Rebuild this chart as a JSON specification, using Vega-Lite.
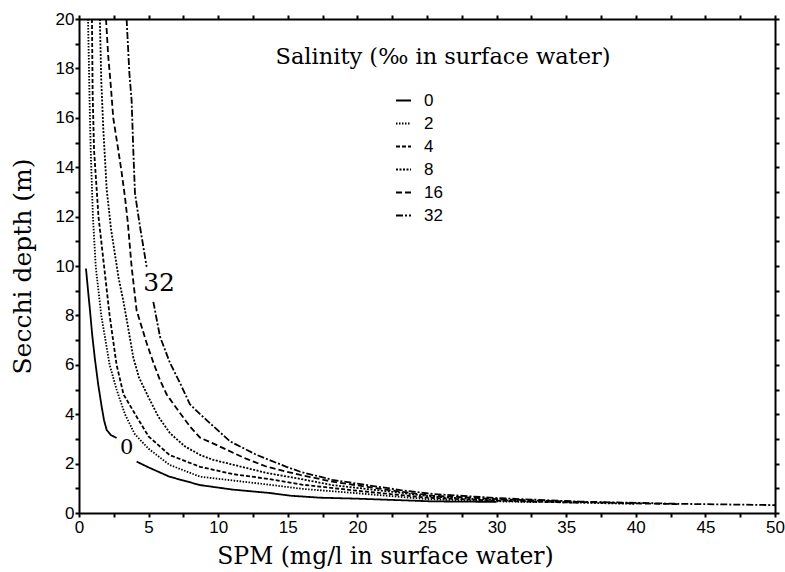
{
  "$schema": "https://vega.github.io/schema/vega-lite/v6.json",
  "width": 696,
  "height": 494,
  "autosize": "none",
  "padding": {"left": 79, "top": 19, "right": 10, "bottom": 59},
  "background": "white",
  "config": {"view": {"stroke": null}},
  "datasets": {
    "curves": [
      {"salinity": 0, "segment": "0a", "spm": 0.5, "secchi": 9.9},
      {"salinity": 0, "segment": "0a", "spm": 0.65, "secchi": 9.0},
      {"salinity": 0, "segment": "0a", "spm": 0.79, "secchi": 8.2},
      {"salinity": 0, "segment": "0a", "spm": 0.95, "secchi": 7.2},
      {"salinity": 0, "segment": "0a", "spm": 1.15, "secchi": 6.2},
      {"salinity": 0, "segment": "0a", "spm": 1.38, "secchi": 5.2},
      {"salinity": 0, "segment": "0a", "spm": 1.63, "secchi": 4.3},
      {"salinity": 0, "segment": "0a", "spm": 1.8, "secchi": 3.75},
      {"salinity": 0, "segment": "0a", "spm": 1.99, "secchi": 3.36},
      {"salinity": 0, "segment": "0a", "spm": 2.3, "secchi": 3.15},
      {"salinity": 0, "segment": "0a", "spm": 2.7, "secchi": 3.04},
      {"salinity": 0, "segment": "0b", "spm": 4.14, "secchi": 2.08},
      {"salinity": 0, "segment": "0b", "spm": 5.1, "secchi": 1.82},
      {"salinity": 0, "segment": "0b", "spm": 6.5, "secchi": 1.47},
      {"salinity": 0, "segment": "0b", "spm": 8.7, "secchi": 1.13},
      {"salinity": 0, "segment": "0b", "spm": 11, "secchi": 0.95},
      {"salinity": 0, "segment": "0b", "spm": 13.7, "secchi": 0.81},
      {"salinity": 0, "segment": "0b", "spm": 15.2, "secchi": 0.7},
      {"salinity": 0, "segment": "0b", "spm": 17.3, "secchi": 0.62},
      {"salinity": 0, "segment": "0b", "spm": 20, "secchi": 0.58},
      {"salinity": 0, "segment": "0b", "spm": 23, "secchi": 0.52},
      {"salinity": 0, "segment": "0b", "spm": 25.4, "secchi": 0.47},
      {"salinity": 0, "segment": "0b", "spm": 30, "secchi": 0.45},

      {"salinity": 2, "segment": "2", "spm": 0.65, "secchi": 20},
      {"salinity": 2, "segment": "2", "spm": 0.7, "secchi": 18.5},
      {"salinity": 2, "segment": "2", "spm": 0.75, "secchi": 17},
      {"salinity": 2, "segment": "2", "spm": 0.84, "secchi": 14.7},
      {"salinity": 2, "segment": "2", "spm": 1.0, "secchi": 12},
      {"salinity": 2, "segment": "2", "spm": 1.2, "secchi": 10},
      {"salinity": 2, "segment": "2", "spm": 1.6, "secchi": 8},
      {"salinity": 2, "segment": "2", "spm": 2.2, "secchi": 6},
      {"salinity": 2, "segment": "2", "spm": 2.7, "secchi": 5},
      {"salinity": 2, "segment": "2", "spm": 3.3, "secchi": 4},
      {"salinity": 2, "segment": "2", "spm": 4.0, "secchi": 3.2},
      {"salinity": 2, "segment": "2", "spm": 5.0, "secchi": 2.6},
      {"salinity": 2, "segment": "2", "spm": 6.5, "secchi": 1.95},
      {"salinity": 2, "segment": "2", "spm": 8.7, "secchi": 1.47},
      {"salinity": 2, "segment": "2", "spm": 11, "secchi": 1.32},
      {"salinity": 2, "segment": "2", "spm": 13.6, "secchi": 1.15},
      {"salinity": 2, "segment": "2", "spm": 16, "secchi": 0.98},
      {"salinity": 2, "segment": "2", "spm": 20, "secchi": 0.8},
      {"salinity": 2, "segment": "2", "spm": 25, "secchi": 0.56},
      {"salinity": 2, "segment": "2", "spm": 30, "secchi": 0.47},
      {"salinity": 2, "segment": "2", "spm": 33, "secchi": 0.44},

      {"salinity": 4, "segment": "4", "spm": 0.93, "secchi": 20},
      {"salinity": 4, "segment": "4", "spm": 0.98, "secchi": 17},
      {"salinity": 4, "segment": "4", "spm": 1.08, "secchi": 14.7},
      {"salinity": 4, "segment": "4", "spm": 1.4, "secchi": 12},
      {"salinity": 4, "segment": "4", "spm": 1.8, "secchi": 10},
      {"salinity": 4, "segment": "4", "spm": 2.2, "secchi": 8},
      {"salinity": 4, "segment": "4", "spm": 2.7, "secchi": 6},
      {"salinity": 4, "segment": "4", "spm": 3.2, "secchi": 4.8},
      {"salinity": 4, "segment": "4", "spm": 4.14, "secchi": 3.9},
      {"salinity": 4, "segment": "4", "spm": 5.0, "secchi": 3.1},
      {"salinity": 4, "segment": "4", "spm": 6.5, "secchi": 2.35},
      {"salinity": 4, "segment": "4", "spm": 8.7, "secchi": 1.87},
      {"salinity": 4, "segment": "4", "spm": 11, "secchi": 1.58},
      {"salinity": 4, "segment": "4", "spm": 13.6, "secchi": 1.38},
      {"salinity": 4, "segment": "4", "spm": 16, "secchi": 1.15},
      {"salinity": 4, "segment": "4", "spm": 20, "secchi": 0.9},
      {"salinity": 4, "segment": "4", "spm": 25, "secchi": 0.62},
      {"salinity": 4, "segment": "4", "spm": 30, "secchi": 0.5},
      {"salinity": 4, "segment": "4", "spm": 33, "secchi": 0.45},
      {"salinity": 4, "segment": "4", "spm": 36, "secchi": 0.42},

      {"salinity": 8, "segment": "8", "spm": 1.5, "secchi": 20},
      {"salinity": 8, "segment": "8", "spm": 1.6, "secchi": 17.5},
      {"salinity": 8, "segment": "8", "spm": 1.75, "secchi": 15.5},
      {"salinity": 8, "segment": "8", "spm": 1.99, "secchi": 13.1},
      {"salinity": 8, "segment": "8", "spm": 2.3, "secchi": 11.5},
      {"salinity": 8, "segment": "8", "spm": 2.85, "secchi": 9.5},
      {"salinity": 8, "segment": "8", "spm": 3.18, "secchi": 8.6},
      {"salinity": 8, "segment": "8", "spm": 3.5, "secchi": 7.6},
      {"salinity": 8, "segment": "8", "spm": 3.9, "secchi": 6.3},
      {"salinity": 8, "segment": "8", "spm": 4.3, "secchi": 5.5},
      {"salinity": 8, "segment": "8", "spm": 4.98, "secchi": 4.7},
      {"salinity": 8, "segment": "8", "spm": 5.7, "secchi": 3.9},
      {"salinity": 8, "segment": "8", "spm": 6.54, "secchi": 3.23},
      {"salinity": 8, "segment": "8", "spm": 7.6, "secchi": 2.7},
      {"salinity": 8, "segment": "8", "spm": 8.7, "secchi": 2.35},
      {"salinity": 8, "segment": "8", "spm": 9.65, "secchi": 2.15},
      {"salinity": 8, "segment": "8", "spm": 11.1, "secchi": 1.95},
      {"salinity": 8, "segment": "8", "spm": 13.5, "secchi": 1.62},
      {"salinity": 8, "segment": "8", "spm": 15.9, "secchi": 1.38},
      {"salinity": 8, "segment": "8", "spm": 18.2, "secchi": 1.13},
      {"salinity": 8, "segment": "8", "spm": 20.7, "secchi": 0.97},
      {"salinity": 8, "segment": "8", "spm": 23.1, "secchi": 0.82},
      {"salinity": 8, "segment": "8", "spm": 25.4, "secchi": 0.66},
      {"salinity": 8, "segment": "8", "spm": 30, "secchi": 0.52},
      {"salinity": 8, "segment": "8", "spm": 35, "secchi": 0.43},
      {"salinity": 8, "segment": "8", "spm": 40, "secchi": 0.37},

      {"salinity": 16, "segment": "16", "spm": 1.94, "secchi": 20},
      {"salinity": 16, "segment": "16", "spm": 2.1, "secchi": 18.5},
      {"salinity": 16, "segment": "16", "spm": 2.27, "secchi": 17.4},
      {"salinity": 16, "segment": "16", "spm": 2.46, "secchi": 16.0},
      {"salinity": 16, "segment": "16", "spm": 2.82, "secchi": 14.7},
      {"salinity": 16, "segment": "16", "spm": 3.06, "secchi": 13.8},
      {"salinity": 16, "segment": "16", "spm": 3.3, "secchi": 12.8},
      {"salinity": 16, "segment": "16", "spm": 3.5, "secchi": 11.8},
      {"salinity": 16, "segment": "16", "spm": 3.78, "secchi": 9.97},
      {"salinity": 16, "segment": "16", "spm": 4.14, "secchi": 8.2},
      {"salinity": 16, "segment": "16", "spm": 4.86, "secchi": 6.88},
      {"salinity": 16, "segment": "16", "spm": 5.4, "secchi": 6.0},
      {"salinity": 16, "segment": "16", "spm": 5.82, "secchi": 5.38},
      {"salinity": 16, "segment": "16", "spm": 6.3, "secchi": 4.8},
      {"salinity": 16, "segment": "16", "spm": 6.8, "secchi": 4.4},
      {"salinity": 16, "segment": "16", "spm": 7.97, "secchi": 3.5},
      {"salinity": 16, "segment": "16", "spm": 8.7, "secchi": 3.05},
      {"salinity": 16, "segment": "16", "spm": 9.9, "secchi": 2.75},
      {"salinity": 16, "segment": "16", "spm": 11.1, "secchi": 2.43},
      {"salinity": 16, "segment": "16", "spm": 12, "secchi": 2.2},
      {"salinity": 16, "segment": "16", "spm": 13.5, "secchi": 1.87},
      {"salinity": 16, "segment": "16", "spm": 15.9, "secchi": 1.54},
      {"salinity": 16, "segment": "16", "spm": 18.2, "secchi": 1.27},
      {"salinity": 16, "segment": "16", "spm": 20.7, "secchi": 1.06},
      {"salinity": 16, "segment": "16", "spm": 23.1, "secchi": 0.86},
      {"salinity": 16, "segment": "16", "spm": 25.4, "secchi": 0.7},
      {"salinity": 16, "segment": "16", "spm": 30.2, "secchi": 0.56},
      {"salinity": 16, "segment": "16", "spm": 35, "secchi": 0.46},
      {"salinity": 16, "segment": "16", "spm": 40, "secchi": 0.39},
      {"salinity": 16, "segment": "16", "spm": 43, "secchi": 0.36},

      {"salinity": 32, "segment": "32a", "spm": 3.42, "secchi": 20},
      {"salinity": 32, "segment": "32a", "spm": 3.62, "secchi": 17.8},
      {"salinity": 32, "segment": "32a", "spm": 3.78, "secchi": 16.7},
      {"salinity": 32, "segment": "32a", "spm": 3.9, "secchi": 14.7},
      {"salinity": 32, "segment": "32a", "spm": 4.02, "secchi": 12.95},
      {"salinity": 32, "segment": "32a", "spm": 4.38, "secchi": 11.6},
      {"salinity": 32, "segment": "32a", "spm": 4.86, "secchi": 9.97},
      {"salinity": 32, "segment": "32b", "spm": 5.34, "secchi": 8.55},
      {"salinity": 32, "segment": "32b", "spm": 5.82, "secchi": 7.14},
      {"salinity": 32, "segment": "32b", "spm": 6.54, "secchi": 6.07},
      {"salinity": 32, "segment": "32b", "spm": 7.26, "secchi": 5.26},
      {"salinity": 32, "segment": "32b", "spm": 7.97, "secchi": 4.4},
      {"salinity": 32, "segment": "32b", "spm": 8.7, "secchi": 4.0},
      {"salinity": 32, "segment": "32b", "spm": 9.4, "secchi": 3.64},
      {"salinity": 32, "segment": "32b", "spm": 10.85, "secchi": 2.9},
      {"salinity": 32, "segment": "32b", "spm": 12.77, "secchi": 2.35},
      {"salinity": 32, "segment": "32b", "spm": 14.9, "secchi": 1.87},
      {"salinity": 32, "segment": "32b", "spm": 15.9, "secchi": 1.67},
      {"salinity": 32, "segment": "32b", "spm": 18.2, "secchi": 1.34},
      {"salinity": 32, "segment": "32b", "spm": 20.7, "secchi": 1.13},
      {"salinity": 32, "segment": "32b", "spm": 23.1, "secchi": 0.93},
      {"salinity": 32, "segment": "32b", "spm": 25.4, "secchi": 0.77},
      {"salinity": 32, "segment": "32b", "spm": 30.2, "secchi": 0.6},
      {"salinity": 32, "segment": "32b", "spm": 36, "secchi": 0.46},
      {"salinity": 32, "segment": "32b", "spm": 43.2, "secchi": 0.37},
      {"salinity": 32, "segment": "32b", "spm": 50, "secchi": 0.32}
    ],
    "curveLabels": [
      {"label": "0", "spm": 3.43, "secchi": 2.65},
      {"label": "32", "spm": 5.75, "secchi": 9.31}
    ],
    "legendTitle": [
      {"label": "Salinity (‰ in surface water)", "spm": 26.15, "secchi": 18.18}
    ]
  },
  "layer": [
    {
      "data": {"name": "curves"},
      "mark": {"type": "line", "strokeWidth": 1.8, "color": "black", "clip": true},
      "encoding": {
        "x": {
          "field": "spm", "type": "quantitative",
          "scale": {"domain": [0, 50], "nice": false, "zero": false},
          "axis": {
            "orient": "bottom",
            "values": [0, 2.5, 5, 7.5, 10, 12.5, 15, 17.5, 20, 22.5, 25, 27.5, 30, 32.5, 35, 37.5, 40, 42.5, 45, 47.5, 50],
            "labelExpr": "datum.value % 5 === 0 ? datum.label : ''",
            "title": "SPM (mg/l in surface water)",
            "grid": false,
            "domainColor": "black", "domainWidth": 2,
            "tickColor": "black", "tickSize": 4, "tickWidth": 2,
            "labelFont": "Liberation Sans",
            "labelFontSize": 17, "labelColor": "black", "labelPadding": 2,
            "labelFlush": false, "labelOverlap": false,
            "titleFont": "DejaVu Serif", "titleFontSize": 23.5, "titleFontWeight": "normal",
            "titleColor": "black",
            "titleAnchor": "start", "titleAlign": "center", "titleBaseline": "alphabetic",
            "titleX": 306, "titleY": 50
          }
        },
        "y": {
          "field": "secchi", "type": "quantitative",
          "scale": {"domain": [0, 20], "nice": false},
          "axis": {
            "orient": "left",
            "values": [0, 1, 2, 3, 4, 5, 6, 7, 8, 9, 10, 11, 12, 13, 14, 15, 16, 17, 18, 19, 20],
            "labelExpr": "datum.value % 2 === 0 ? datum.label : ''",
            "title": "Secchi depth (m)",
            "grid": false,
            "domainColor": "black", "domainWidth": 2,
            "tickColor": "black", "tickSize": 4, "tickWidth": 2,
            "labelFont": "Liberation Sans",
            "labelFontSize": 17, "labelColor": "black", "labelPadding": 1,
            "labelFlush": false, "labelOverlap": false,
            "titleFont": "DejaVu Serif", "titleFontSize": 25, "titleFontWeight": "normal",
            "titleColor": "black",
            "titleAnchor": "start", "titleAlign": "center", "titleBaseline": "middle",
            "titleAngle": 270,
            "titleX": -57, "titleY": 247
          }
        },
        "strokeDash": {
          "field": "salinity", "type": "ordinal",
          "scale": {
            "domain": [0, 2, 4, 8, 16, 32],
            "range": [[1, 0], [1.5, 1.5], [4, 2], [2, 1.5], [6, 3], [7, 2, 2, 2]]
          },
          "legend": {
            "orient": "none",
            "legendX": 316,
            "legendY": 73,
            "title": null,
            "symbolType": "stroke",
            "symbolSize": 225,
            "symbolStrokeWidth": 1.8,
            "symbolStrokeColor": "black",
            "labelFont": "Liberation Sans",
            "labelFontSize": 17,
            "labelColor": "black",
            "labelOffset": 12,
            "rowPadding": 5
          }
        },
        "detail": {"field": "segment"}
      }
    },
    {
      "data": {"name": "curves"},
      "mark": {"type": "line", "opacity": 0},
      "encoding": {
        "x": {
          "field": "spm", "type": "quantitative",
          "axis": {
            "orient": "top",
            "values": [0, 2.5, 5, 7.5, 10, 12.5, 15, 17.5, 20, 22.5, 25, 27.5, 30, 32.5, 35, 37.5, 40, 42.5, 45, 47.5, 50],
            "labels": false, "title": null, "grid": false,
            "domainColor": "black", "domainWidth": 2,
            "tickColor": "black", "tickSize": 4, "tickWidth": 2
          }
        },
        "y": {
          "field": "secchi", "type": "quantitative",
          "axis": {
            "orient": "right",
            "values": [0, 1, 2, 3, 4, 5, 6, 7, 8, 9, 10, 11, 12, 13, 14, 15, 16, 17, 18, 19, 20],
            "labels": false, "title": null, "grid": false,
            "domainColor": "black", "domainWidth": 2,
            "tickColor": "black", "tickSize": 4, "tickWidth": 2
          }
        },
        "detail": {"field": "segment"}
      }
    },
    {
      "data": {"name": "curveLabels"},
      "mark": {"type": "text", "font": "DejaVu Serif", "color": "black", "align": "center", "baseline": "middle"},
      "encoding": {
        "x": {"field": "spm", "type": "quantitative", "axis": null},
        "y": {"field": "secchi", "type": "quantitative", "axis": null},
        "text": {"field": "label"},
        "size": {"field": "label", "type": "nominal", "scale": {"domain": ["0", "32"], "range": [21, 25]}, "legend": null}
      }
    },
    {
      "data": {"name": "legendTitle"},
      "mark": {"type": "text", "font": "DejaVu Serif", "fontSize": 22.5, "color": "black", "align": "center", "baseline": "alphabetic"},
      "encoding": {
        "x": {"field": "spm", "type": "quantitative", "axis": null},
        "y": {"field": "secchi", "type": "quantitative", "axis": null},
        "text": {"field": "label"}
      }
    }
  ],
  "resolve": {"axis": {"x": "independent", "y": "independent"}}
}
